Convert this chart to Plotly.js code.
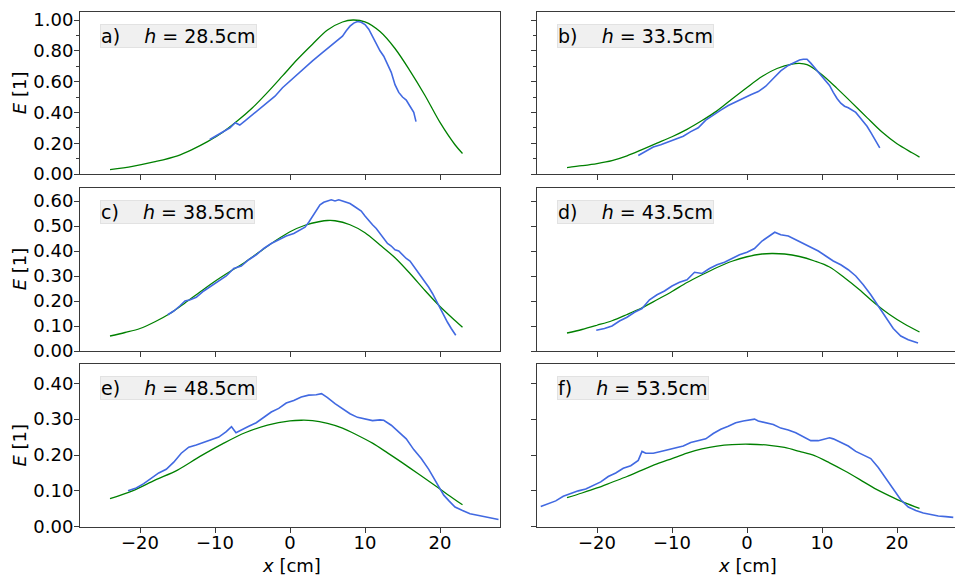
<!DOCTYPE html>
<html>
<head>
<meta charset="utf-8">
<script src="https://cdn.plot.ly/plotly-3.0.1.min.js"></script>
<style>html,body{margin:0;padding:0;background:#fff;}#chart{width:955px;height:575px;}</style>
</head>
<body>
<div id="chart"></div>
<script>
// ---- panel labels ----
const panelLabels = ["a)", "b)", "c)", "d)", "e)", "f)"];
const heights = ["28.5", "33.5", "38.5", "43.5", "48.5", "53.5"];

// ---- measured profiles (blue) ----
const xMeasA = [-10.7,-10,-9,-8,-7.3,-6.7,-6,-5,-4,-3,-2,-1,0,1,2,3,4,5,5.5,6,6.5,7,7.5,8,8.5,9,9.5,10,10.5,11,11.5,12,12.5,13,13.5,14,14.5,15,15.5,16,16.5,16.8];
const eMeasA = [0.224,0.245,0.27,0.30,0.333,0.318,0.345,0.385,0.42,0.46,0.505,0.56,0.605,0.645,0.695,0.735,0.775,0.815,0.83,0.85,0.87,0.895,0.93,0.96,0.98,0.99,0.985,0.97,0.94,0.895,0.84,0.80,0.765,0.715,0.66,0.58,0.53,0.50,0.48,0.44,0.40,0.34];

const xMeasB = [-14.5,-13.5,-12.5,-11.5,-10.5,-9.5,-8.5,-7.5,-6.5,-5.5,-4.5,-3.5,-2.5,-1.5,-0.5,0.5,1.5,2.5,3.5,4.5,5.5,6.5,7.0,7.5,8.0,8.5,9.0,9.5,10,10.5,11,11.5,12,12.5,13,13.5,14,14.5,15,15.5,16,16.5,17,17.7];
const eMeasB = [0.12,0.15,0.175,0.19,0.21,0.225,0.245,0.275,0.30,0.35,0.385,0.415,0.445,0.47,0.49,0.515,0.535,0.57,0.62,0.67,0.705,0.73,0.74,0.745,0.745,0.72,0.69,0.665,0.635,0.605,0.575,0.53,0.49,0.46,0.44,0.43,0.415,0.40,0.37,0.34,0.31,0.27,0.23,0.17];

const xMeasC = [-16.3,-15.5,-14.7,-14,-13.3,-12.5,-11.5,-10.5,-9.5,-8.5,-7.5,-6.5,-5.5,-4.5,-3.5,-2.5,-1.5,-0.5,0.5,1.5,2,2.5,3,3.5,4,4.5,5,5.5,6,6.5,7,7.5,8,8.5,9,9.5,10,10.5,11,11.5,12,12.5,13,13.5,14,14.5,15,15.5,16,16.5,17,17.5,18,18.5,19,19.5,20,20.5,21,21.5,22.1];
const eMeasC = [0.145,0.16,0.18,0.20,0.205,0.215,0.24,0.26,0.28,0.30,0.33,0.34,0.365,0.385,0.41,0.43,0.445,0.46,0.47,0.485,0.495,0.515,0.54,0.56,0.585,0.595,0.60,0.605,0.60,0.605,0.60,0.595,0.59,0.58,0.57,0.56,0.54,0.52,0.505,0.49,0.47,0.445,0.43,0.42,0.405,0.40,0.385,0.37,0.36,0.34,0.32,0.30,0.28,0.255,0.23,0.20,0.17,0.14,0.115,0.09,0.063];

const xMeasD = [-20.1,-19,-18,-17,-16,-15,-14,-13,-12,-11,-10,-9,-8,-7,-6,-5,-4,-3,-2,-1,0,1,2,3,3.7,4.5,5.5,6.5,7.5,8.5,9.5,10.5,11.5,12.5,13.5,14.5,15.5,16.5,17.5,18.5,19.5,20.5,21.5,22.8];
const eMeasD = [0.083,0.09,0.10,0.12,0.135,0.155,0.17,0.205,0.225,0.24,0.26,0.275,0.285,0.315,0.31,0.33,0.345,0.355,0.37,0.385,0.395,0.41,0.44,0.46,0.475,0.465,0.46,0.445,0.43,0.415,0.40,0.38,0.36,0.345,0.325,0.30,0.265,0.225,0.18,0.13,0.09,0.06,0.045,0.032];

const xMeasE = [-21.6,-20.5,-19.5,-18.5,-17.5,-16.5,-15.5,-14.5,-13.5,-12.5,-11.5,-10.5,-9.5,-8.5,-7.8,-7.2,-6.5,-5.5,-4.5,-3.5,-2.5,-1.5,-0.5,0.5,1.5,2.5,3.5,4.2,5,6,7,8,9,10,11,12,12.5,13.5,14.5,15.5,16.5,17.5,18.5,19.5,20.5,21.2,22,23,24,25,26,27,27.8];
const eMeasE = [0.10,0.108,0.12,0.135,0.15,0.16,0.18,0.205,0.222,0.228,0.236,0.242,0.25,0.265,0.279,0.262,0.27,0.28,0.29,0.305,0.32,0.33,0.345,0.352,0.362,0.367,0.368,0.371,0.36,0.343,0.328,0.315,0.305,0.30,0.296,0.298,0.297,0.283,0.265,0.245,0.215,0.19,0.16,0.125,0.088,0.072,0.055,0.045,0.036,0.032,0.028,0.024,0.02];

const xMeasF = [-27.5,-26.5,-25.5,-24.5,-23.5,-22.5,-21.5,-20.5,-19.5,-18.5,-17.5,-16.5,-15.5,-14.5,-14,-13.5,-12.5,-11.5,-10.5,-9.5,-8.5,-7.5,-6.5,-5.5,-4.5,-3.5,-2.5,-1.5,-0.5,0.5,1,1.5,2.5,3.5,4.5,5.5,6.5,7.5,8.5,9.5,10.5,11,11.5,12.5,13.5,14.5,15.5,16.5,17.5,18.5,19.5,20.5,21.5,22.5,23.5,24.5,25.5,26.5,27.5];
const eMeasF = [0.056,0.065,0.072,0.085,0.093,0.10,0.105,0.115,0.125,0.14,0.15,0.163,0.17,0.185,0.21,0.205,0.205,0.21,0.215,0.22,0.225,0.235,0.24,0.245,0.26,0.272,0.28,0.29,0.295,0.298,0.30,0.295,0.29,0.285,0.275,0.27,0.262,0.25,0.24,0.24,0.245,0.248,0.245,0.235,0.225,0.21,0.2,0.19,0.165,0.135,0.105,0.075,0.055,0.045,0.038,0.033,0.03,0.028,0.026];

// ---- fitted curves (green) ----
const xFitA = [-24,-21,-18,-15,-13,-11,-9,-7,-5,-3,-1,1,3,5,7,8.4,10,12,14,16,18,20,22,23];
const eFitA = [0.029,0.05,0.08,0.118,0.16,0.21,0.27,0.345,0.43,0.53,0.637,0.745,0.843,0.935,0.987,1.0,0.988,0.925,0.815,0.67,0.51,0.335,0.19,0.133];

const xFitB = [-24,-22,-20,-18,-16,-14,-12,-10,-8,-6,-4,-2,0,2,4,6,7,8,10,12,14,16,18,20,22,23];
const eFitB = [0.042,0.054,0.068,0.087,0.118,0.158,0.2,0.242,0.29,0.347,0.41,0.487,0.562,0.633,0.685,0.714,0.718,0.71,0.645,0.556,0.462,0.366,0.272,0.196,0.138,0.11];

const xFitC = [-24,-22,-20,-18,-16,-14,-12,-10,-8,-6,-4,-2,0,2,4,5,6,8,10,12,14,16,18,20,22,23];
const eFitC = [0.06,0.074,0.09,0.117,0.15,0.192,0.236,0.279,0.318,0.355,0.398,0.44,0.477,0.503,0.518,0.522,0.521,0.505,0.473,0.424,0.373,0.31,0.242,0.178,0.122,0.095];

const xFitD = [-24,-22,-20,-18,-16,-14,-12,-10,-8,-6,-4,-2,0,2,3.3,5,7,9,11,13,15,17,19,21,23];
const eFitD = [0.072,0.086,0.103,0.121,0.146,0.173,0.205,0.238,0.274,0.305,0.334,0.359,0.377,0.388,0.39,0.388,0.378,0.36,0.336,0.293,0.245,0.192,0.146,0.108,0.076];

const xFitE = [-24,-21,-18,-15,-12,-9,-6,-3,0,1.5,3,5,7,9,11,13,15,17,19,21,23];
const eFitE = [0.078,0.10,0.13,0.158,0.196,0.231,0.262,0.283,0.295,0.297,0.296,0.288,0.275,0.255,0.233,0.206,0.178,0.149,0.12,0.09,0.061];

const xFitF = [-24,-22,-20,-18,-16,-14,-12,-10,-8,-6,-4,-2,0.4,3,5,7,9,11,13,15,17,19,21,23];
const eFitF = [0.081,0.094,0.108,0.124,0.14,0.158,0.175,0.19,0.205,0.217,0.225,0.229,0.23,0.227,0.221,0.21,0.198,0.178,0.156,0.132,0.107,0.086,0.067,0.051];

// ---- axis ticks ----
const xTickVals = [-20,-10,0,10,20];
const xTickText = ["\u221220","\u221210","0","10","20"];
const yTicksRow1 = [0,0.2,0.4,0.6,0.8,1.0];
const yTicksRow2 = [0,0.1,0.2,0.3,0.4,0.5,0.6];
const yTicksRow3 = [0,0.1,0.2,0.3,0.4];

// ---- layout geometry (pixels) ----
const W = 955, H = 575;
const colPx = [[80,500],[537,955]];
const rowPx = [[12.3,174],[187.5,351],[364.3,526.7]];
const xRanges = [[-28,28],[-28,27.73]];
const yRanges = [[0,1.05],[0,0.654],[0,0.453]];
const yTickSets = [yTicksRow1,yTicksRow2,yTicksRow3];

const measX = [xMeasA,xMeasB,xMeasC,xMeasD,xMeasE,xMeasF];
const measE = [eMeasA,eMeasB,eMeasC,eMeasD,eMeasE,eMeasF];
const fitX = [xFitA,xFitB,xFitC,xFitD,xFitE,xFitF];
const fitE = [eFitA,eFitB,eFitC,eFitD,eFitE,eFitF];

const FONT = {family:"DejaVu Sans", size:18, color:"#000"};
const SPINE = "#3a3a3a";

const traces = [];
const layout = {
  width:W, height:H,
  margin:{l:0,r:0,t:0,b:0},
  paper_bgcolor:"#fff", plot_bgcolor:"#fff",
  showlegend:false,
  font:FONT,
  annotations:[]
};

for (let i=0;i<6;i++){
  const row = Math.floor(i/2), col = i%2;
  const n = i+1;
  const xa = n===1 ? "x" : "x"+n;
  const ya = n===1 ? "y" : "y"+n;
  traces.push({x:fitX[i], y:fitE[i], xaxis:xa, yaxis:ya, mode:"lines",
    line:{color:"#008000", width:1.3, shape:"spline", smoothing:0.9}, hoverinfo:"skip"});
  traces.push({x:measX[i], y:measE[i], xaxis:xa, yaxis:ya, mode:"lines",
    line:{color:"#4169e1", width:1.6}, hoverinfo:"skip"});

  const xKey = n===1 ? "xaxis" : "xaxis"+n;
  const yKey = n===1 ? "yaxis" : "yaxis"+n;
  layout[xKey] = {
    domain:[colPx[col][0]/W, colPx[col][1]/W],
    range:xRanges[col], anchor:ya,
    tickmode:"array", tickvals:xTickVals, ticktext:xTickText,
    ticks:"outside", ticklen:5, tickwidth:1, tickcolor:SPINE,
    showticklabels: row===2, tickfont:FONT, ticklabelstandoff:-5,
    showline:true, mirror:true, linecolor:SPINE, linewidth:1,
    showgrid:false, zeroline:false, fixedrange:true
  };
  const ycfg = {
    domain:[1-rowPx[row][1]/H, 1-rowPx[row][0]/H],
    range:yRanges[row], anchor:xa,
    tickmode:"array", tickvals:yTickSets[row],
    ticktext:yTickSets[row].map(v=>v.toFixed(2)),
    ticks:"outside", ticklen:5, tickwidth:1, tickcolor:SPINE,
    showticklabels: col===0, tickfont:FONT, ticklabelstandoff:-3,
    showline:true, mirror:true, linecolor:SPINE, linewidth:1,
    showgrid:false, zeroline:false, fixedrange:true
  };
  if (row===0){
    ycfg.minor = {tickmode:"linear", tick0:0, dtick:0.1, ticks:"outside", ticklen:3, tickcolor:SPINE, showgrid:false};
  }
  layout[yKey] = ycfg;

  layout.annotations.push({
    xref:xa+" domain", yref:ya+" domain",
    x:20/(colPx[col][1]-colPx[col][0]), y:1-12/(rowPx[row][1]-rowPx[row][0]),
    xanchor:"left", yanchor:"top", showarrow:false, align:"left",
    text:panelLabels[i]+"\u00a0\u00a0\u00a0\u00a0<i>h</i> = "+heights[i]+"cm",
    font:{family:"DejaVu Sans", size:19, color:"#000"},
    bgcolor:"#f0f0f0", bordercolor:"#e2e2e2", borderwidth:1, borderpad:0
  });
}

// y-axis titles
const rowCentres = rowPx.map(r => 1-((r[0]+r[1])/2)/H);
rowCentres.forEach(yc => layout.annotations.push({
  xref:"paper", yref:"paper", x:19/W, y:yc, xanchor:"center", yanchor:"middle",
  textangle:-90, showarrow:false, text:"<i>E</i> [1]", font:FONT
}));
// x-axis titles
colPx.forEach(c => layout.annotations.push({
  xref:"paper", yref:"paper", x:((c[0]+c[1]+2)/2)/W, y:1-565/H, xanchor:"center", yanchor:"middle",
  showarrow:false, text:"<i>x</i> [cm]", font:FONT
}));

Plotly.newPlot("chart", traces, layout, {staticPlot:true, displayModeBar:false});
</script>
</body>
</html>
